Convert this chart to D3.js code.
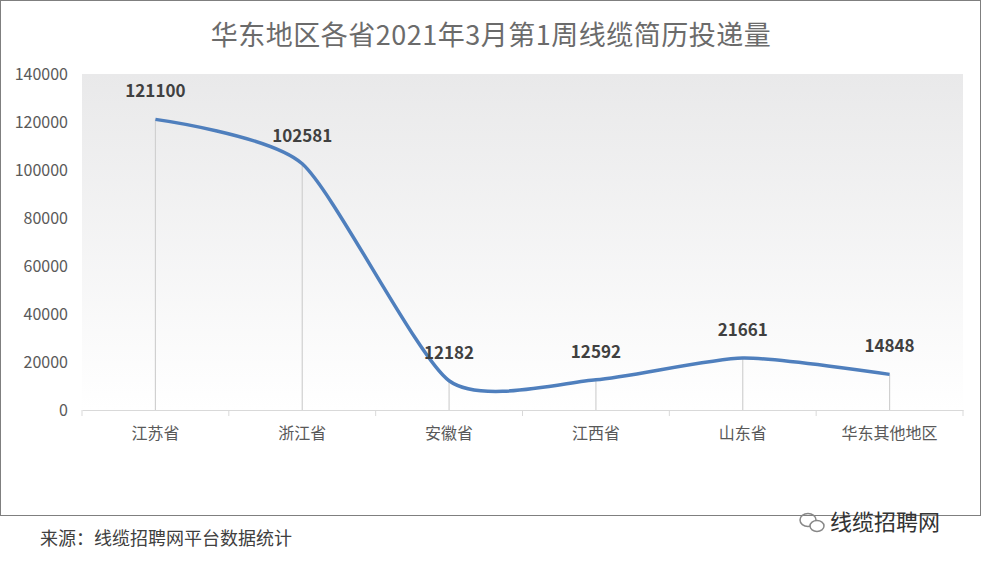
<!DOCTYPE html>
<html><head><meta charset="utf-8">
<script src="https://cdn.jsdelivr.net/npm/d3@7"></script>
<style>body{margin:0;background:#fff;font-family:"Noto Sans CJK SC","Microsoft YaHei",sans-serif}</style>
</head><body>
<svg id="c" width="982" height="563"></svg>
<script>
const categories=["江苏省","浙江省","安徽省","江西省","山东省","华东其他地区"];
const values=[121100,102581,12182,12592,21661,14848];
const yTicks=[0,20000,40000,60000,80000,100000,120000,140000];
const svg=d3.select("#c");
const font='"Noto Sans CJK SC",sans-serif';
svg.append("rect").attr("x",0.5).attr("y",0.5).attr("width",980).attr("height",515).attr("fill","#fff").attr("stroke","#7f7f7f");
const defs=svg.append("defs");
const g=defs.append("linearGradient").attr("id","bg").attr("x1",0).attr("y1",0).attr("x2",0).attr("y2",1);
g.append("stop").attr("offset","0").attr("stop-color","#e9e9ea");
g.append("stop").attr("offset","1").attr("stop-color","#ffffff");
const x=d3.scaleBand().domain(categories).range([82,963]);
const y=d3.scaleLinear().domain([0,140000]).range([410,74]);
svg.append("rect").attr("x",82).attr("y",74).attr("width",881).attr("height",336).attr("fill","url(#bg)");
svg.append("text").attr("x",491).attr("y",45).attr("text-anchor","middle").attr("font-size",27).attr("letter-spacing",0.5).attr("fill","#6b6b6b").attr("font-family",font).text("华东地区各省2021年3月第1周线缆简历投递量");
svg.selectAll(".yt").data(yTicks).join("text").attr("x",68).attr("y",d=>y(d)+6).attr("text-anchor","end").attr("font-size",16).attr("fill","#595959").attr("font-family",font).text(d=>d);
const xa=svg.append("g").attr("transform","translate(0,410)").call(d3.axisBottom(x).tickSize(8).tickSizeOuter(0).tickFormat(d=>d));
xa.select(".domain").attr("stroke","#d9d9d9");
xa.selectAll(".tick line").remove();
xa.selectAll(".tick text").attr("font-size",16).attr("fill","#595959").attr("font-family",font).attr("dy","1.1em");
const edges=categories.map(c=>x(c)).concat([963]);
svg.selectAll(".xt").data(edges).join("line").attr("x1",d=>d).attr("x2",d=>d).attr("y1",410).attr("y2",416).attr("stroke","#d9d9d9");
const cx=c=>x(c)+x.bandwidth()/2;
svg.selectAll(".drop").data(values).join("line").attr("x1",(d,i)=>cx(categories[i])).attr("x2",(d,i)=>cx(categories[i])).attr("y1",d=>y(d)).attr("y2",410).attr("stroke","#d0d0d0").attr("stroke-width",1.2);
const line=d3.line().x((d,i)=>cx(categories[i])).y(d=>y(d)).curve(d3.curveCardinal.tension(0.35));
svg.append("path").attr("d",line(values)).attr("fill","none").attr("stroke","#4f7fbd").attr("stroke-width",3.5);
svg.selectAll(".lab").data(values).join("text").attr("x",(d,i)=>cx(categories[i])).attr("y",d=>y(d)-22).attr("text-anchor","middle").attr("font-size",17).attr("font-weight","bold").attr("fill","#404040").attr("font-family",font).text(d=>d);
svg.append("text").attr("x",40).attr("y",545).attr("font-size",18).attr("fill","#404040").attr("font-family",font).text("来源：线缆招聘网平台数据统计");
const wm=svg.append("g").attr("transform","translate(808,520)");
wm.append("ellipse").attr("cx",0).attr("cy",0).attr("rx",8).attr("ry",6.5).attr("fill","none").attr("stroke","#888").attr("stroke-width",1.5);
wm.append("ellipse").attr("cx",9).attr("cy",6).attr("rx",7).attr("ry",5.5).attr("fill","#fff").attr("stroke","#888").attr("stroke-width",1.5);
svg.append("text").attr("x",830).attr("y",530).attr("font-size",22).attr("fill","#333").attr("font-family",font).text("线缆招聘网");
</script></body></html>
